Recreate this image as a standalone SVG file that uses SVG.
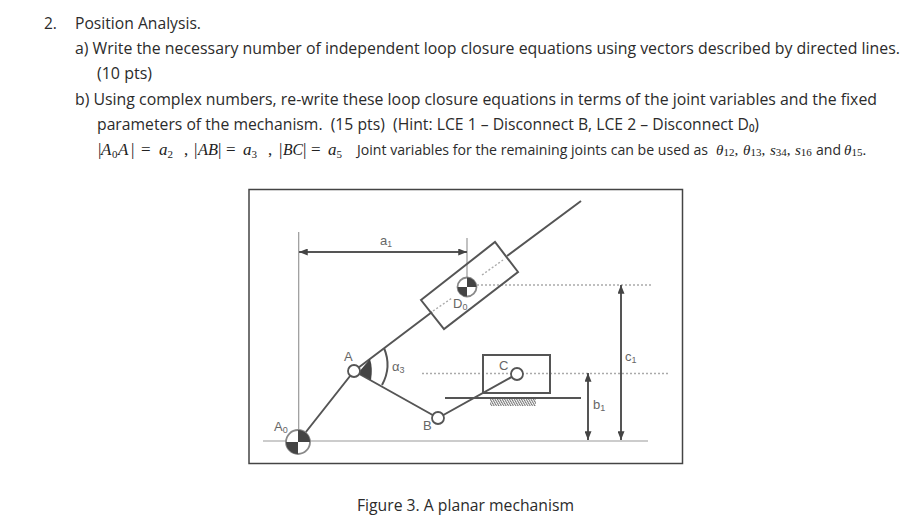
<svg xmlns="http://www.w3.org/2000/svg" width="914" height="530" viewBox="0 0 914 530">
<style>
.t{font-family:"Open Sans","Noto Sans",sans-serif;font-size:15.500px;fill:#2b2b2b}
.j13{font-size:13.800px}
.m{font-family:"Liberation Serif",serif;font-size:17px;fill:#222;font-style:italic}
.mp{font-family:"Liberation Serif",serif;font-size:17px;fill:#222}
.m2{font-size:15px}
.n{font-style:normal}
.l{font-family:"Liberation Sans",sans-serif;font-size:13px;fill:#666}
.s{fill:none;stroke:#555;stroke-width:2}
.h{fill:none;stroke:#999;stroke-width:1.200}
.d{fill:none;stroke:#aaa;stroke-width:1.400;stroke-dasharray:2 2}
.j{fill:#fff;stroke:#555;stroke-width:1.800}
.b{fill:#444}
</style>
<defs>
<marker id="ah" viewBox="0 0 10 8" refX="10" refY="4" markerWidth="9" markerHeight="7" markerUnits="userSpaceOnUse" orient="auto-start-reverse"><path d="M0 0L10 4L0 8Z" fill="#444"/></marker>
<pattern id="hat" width="2.400" height="8" patternUnits="userSpaceOnUse" patternTransform="skewX(30)"><rect width="1.200" height="8" fill="#777"/></pattern>
</defs>
<rect width="914" height="530" fill="#fff"/>
<g id="question-text">
<text class="t" x="44" y="29">2.</text>
<text class="t" x="75" y="29" textLength="126" lengthAdjust="spacingAndGlyphs">Position Analysis.</text>
<text class="t" x="75" y="54" textLength="825" lengthAdjust="spacingAndGlyphs">a) Write the necessary number of independent loop closure equations using vectors described by directed lines.</text>
<text class="t" x="97" y="79" textLength="55" lengthAdjust="spacingAndGlyphs">(10 pts)</text>
<text class="t" x="75" y="105" textLength="802" lengthAdjust="spacingAndGlyphs">b) Using complex numbers, re-write these loop closure equations in terms of the joint variables and the fixed</text>
<text class="t" x="97" y="130" textLength="662" lengthAdjust="spacingAndGlyphs" xml:space="preserve">parameters of the mechanism.  (15 pts)  (Hint: LCE 1 – Disconnect B, LCE 2 – Disconnect D₀)</text>
<text class="mp" x="98" y="155">|</text>
<text class="m" x="101" y="155">A</text>
<text class="mp" x="112" y="158" font-size="11" style="font-size:11px">0</text>
<text class="m" x="118" y="155">A</text>
<text class="mp" x="131" y="155">|</text>
<text class="mp" x="141" y="155">=</text>
<text class="m" x="159" y="155">a<tspan class="n" font-size="11" dy="3">2</tspan></text>
<text class="mp" x="184" y="155">,</text>
<text class="mp" x="194" y="155">|</text>
<text class="m" x="198" y="155" textLength="20" lengthAdjust="spacingAndGlyphs">AB</text>
<text class="mp" x="218" y="155">|</text>
<text class="mp" x="226" y="155">=</text>
<text class="m" x="243" y="155">a<tspan class="n" font-size="11" dy="3">3</tspan></text>
<text class="mp" x="268" y="155">,</text>
<text class="mp" x="279" y="155">|</text>
<text class="m" x="283" y="155" textLength="20" lengthAdjust="spacingAndGlyphs">BC</text>
<text class="mp" x="303" y="155">|</text>
<text class="mp" x="311" y="155">=</text>
<text class="m" x="328" y="155">a<tspan class="n" font-size="11" dy="3">5</tspan></text>
<text class="t j13" x="357" y="155" textLength="351" lengthAdjust="spacingAndGlyphs">Joint variables for the remaining joints can be used as</text>
<text class="m m2" x="716" y="155">θ<tspan class="n" font-size="11" dy="1">12</tspan><tspan class="n" dy="-1">,</tspan></text>
<text class="m m2" x="743" y="155">θ<tspan class="n" font-size="11" dy="1">13</tspan><tspan class="n" dy="-1">,</tspan></text>
<text class="m m2" x="770" y="155">s<tspan class="n" font-size="11" dy="1">34</tspan><tspan class="n" dy="-1">,</tspan></text>
<text class="m m2" x="795" y="155">s<tspan class="n" font-size="11" dy="1">16</tspan></text>
<text class="t j13" x="816" y="155" textLength="25" lengthAdjust="spacingAndGlyphs">and</text>
<text class="m m2" x="844" y="155">θ<tspan class="n" font-size="11" dy="1">15</tspan><tspan class="n" dy="-1">.</tspan></text>
</g>
<g id="frame"><rect x="249" y="189.500" width="433.500" height="274" fill="#fff" stroke="#444" stroke-width="1.500"/></g>
<g id="connectors">
<path class="h" d="M298.700 232V442M467 238V290M263 441H648"/>
<path class="s" d="M299 252H467" marker-start="url(#ah)" marker-end="url(#ah)"/>
<path class="d" d="M477 285H652M422 373.500H668"/>
<path class="d" d="M482 275L503 260M433 311L452 298"/>
<path class="s" d="M354 371L432 312M507 256L581 201"/>
<path class="s" d="M298 442L354 371M354 371L438 418M438 418L517 374"/>
<path class="s" d="M445 398H581"/>
<path class="s" d="M588 373V440" marker-start="url(#ah)" marker-end="url(#ah)"/>
<path class="s" d="M621 285V440" marker-start="url(#ah)" marker-end="url(#ah)"/>
<path class="s" d="M384 348Q392 367 382 385"/>
</g>
<g id="slider-D0"><path d="M421 300L495 242L518 272L444 329Z" fill="none" stroke="#555" stroke-width="2"/></g>
<g id="slider-C"><rect x="483" y="355" width="67" height="38" fill="none" stroke="#555" stroke-width="2"/></g>
<g id="ground-hatch"><rect x="490" y="399" width="46" height="7" fill="url(#hat)"/></g>
<g id="joint-A0"><circle class="j" cx="298" cy="442" r="12" style="stroke:#888"/><path class="b" d="M298 442V430A12 12 0 0 1 310 442ZM298 442V454A12 12 0 0 1 286 442Z"/></g>
<g id="wedge"><path class="b" d="M358 373L370 359Q373 368 371 380Z"/></g>
<g id="joint-A"><circle class="j" cx="354" cy="371" r="6"/></g>
<g id="joint-B"><circle class="j" cx="438" cy="418" r="6"/></g>
<g id="joint-C"><circle class="j" cx="517" cy="374" r="6"/></g>
<g id="joint-D0"><circle class="j" cx="467" cy="287" r="9.500" style="stroke:#888"/><path class="b" d="M467 287V277.500A9.500 9.500 0 0 1 476.500 287ZM467 287V296.500A9.500 9.500 0 0 1 457.500 287Z"/></g>
<g id="labels">
<text class="l" x="380" y="245">a<tspan font-size="8.500" dy="2">1</tspan></text>
<text class="l" x="453" y="308">D<tspan font-size="9" dy="2">0</tspan></text>
<text class="l" x="344" y="361">A</text>
<text class="l" x="274" y="431">A<tspan font-size="9" dy="2">0</tspan></text>
<text class="l" x="423" y="430">B</text>
<text class="l" x="499" y="370">C</text>
<text class="l" x="392" y="371">α<tspan font-size="9" dy="2">3</tspan></text>
<text class="l" x="593" y="409">b<tspan font-size="9" dy="2">1</tspan></text>
<text class="l" x="625" y="361">c<tspan font-size="9" dy="2">1</tspan></text>
</g>
<text class="t" x="357" y="511" style="font-size:16px" textLength="217" lengthAdjust="spacingAndGlyphs">Figure 3. A planar mechanism</text>
</svg>
